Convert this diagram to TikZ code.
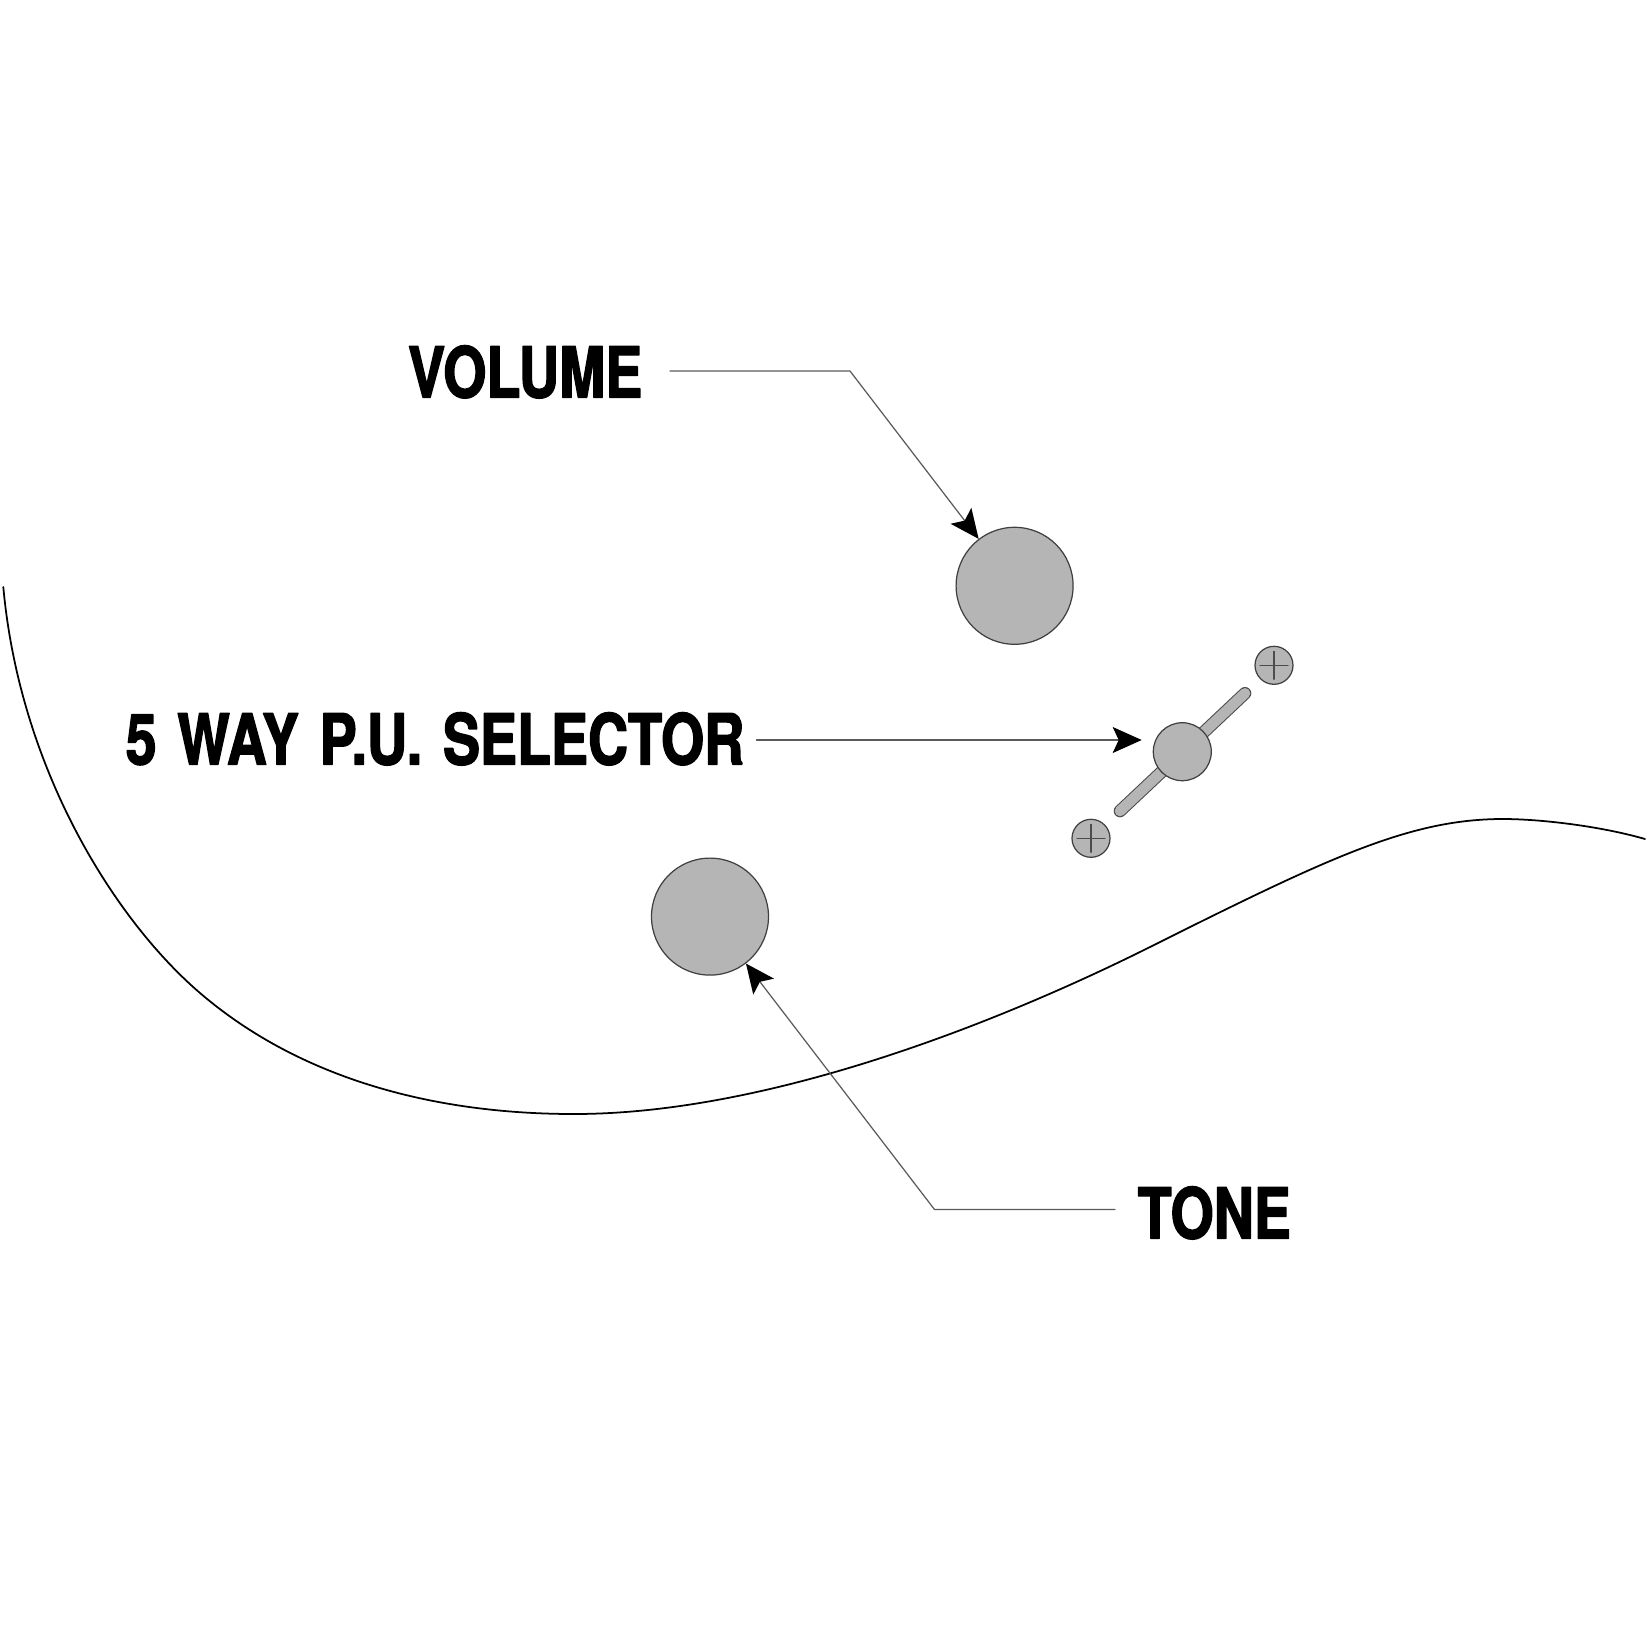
\documentclass[tikz,border=0pt]{standalone}
\usepackage{fontspec}
\usetikzlibrary{arrows.meta}
\newfontfamily\labelfont[FakeStretch=.79,FakeBold=2,WordSpace=1.35]{TeX Gyre Heros}
\definecolor{knobgray}{HTML}{B4B5B4}
\definecolor{leadgray}{HTML}{5A5A5A}
\tikzset{
	knob/.style = {circle, draw = black!75, line width = .35pt, fill = knobgray, inner sep = 0pt, minimum size = #1},
	partlabel/.style = {inner sep = 0pt, text height = 14.5pt, text depth = 0pt, font = \labelfont\bfseries\fontsize{20pt}{20pt}\selectfont},
	lead/.style = {draw = leadgray, line width = .35pt, ->},
}
\begin{document}
\begin{tikzpicture}[x = .1mm, y = -.1mm, join = round, cap = round, >={Stealth[length = 2.9mm, width = 2.6mm, inset = .6mm, black]}]
	\useasboundingbox (0,0) rectangle (1652,1652);
	\def\r{5.85mm}  %big knob radius
	\path 
	(850,371) coordinate (VB)
	(934.5,1209.5) coordinate (TB)
	(1141.7,740) coordinate (ST)
	(1120,811) coordinate (SL1)
	(1245,693.3) coordinate (SL2)
	;
	%body edge
	\draw[line width = .5pt] 
	(3.3,587) .. controls (20,770) and (115,920) .. (200,993)
	.. controls (298,1077) and (430,1114) .. (574,1114)
	.. controls (780,1114) and (1020,1012) .. (1150,947)
	.. controls (1330,857) and (1410,819) .. (1503,819)
	.. controls (1540,819) and (1600,826) .. (1645,839)
	;
	%slot under the selector
	\draw[line width = 3.6pt, black!70, line cap = round] (SL1)--(SL2);
	\draw[line width = 3pt, knobgray, line cap = round] (SL1)--(SL2);
	
	\node[knob = 2*\r] (vol) at (1014.6,585.8) {};
	\node[knob = 2*\r] (tone) at (710,916.6) {};
	\node[knob = 5.8mm] (sel) at (1182.3,751.7) {};
	\node[knob = 3.8mm] (scrA) at (1274,665.3) {};
	\node[knob = 3.8mm] (scrB) at (1091,838.3) {};
	\foreach \s in {scrA,scrB}
	\draw[line width = .3pt, black!70] (\s)+(-14,0)--+(14,0) (\s)+(0,-14)--+(0,14);
	
	\node[partlabel, anchor = east] (lvol) at (643,372) {VOLUME};
	\node[partlabel, anchor = east] (lsel) at (745,739) {5 WAY P.U. SELECTOR};
	\node[partlabel, anchor = west] (ltone) at (1137,1213) {TONE};
	
	\draw[lead, shorten <= 2.7mm] (lvol.east |- VB)--(VB)--(vol);
	\draw[lead, shorten <= 1.15mm] (lsel.east |- ST)--(ST);
	\draw[lead, shorten <= 2.2mm] (ltone.west |- TB)--(TB)--(tone);
\end{tikzpicture}
\end{document}
